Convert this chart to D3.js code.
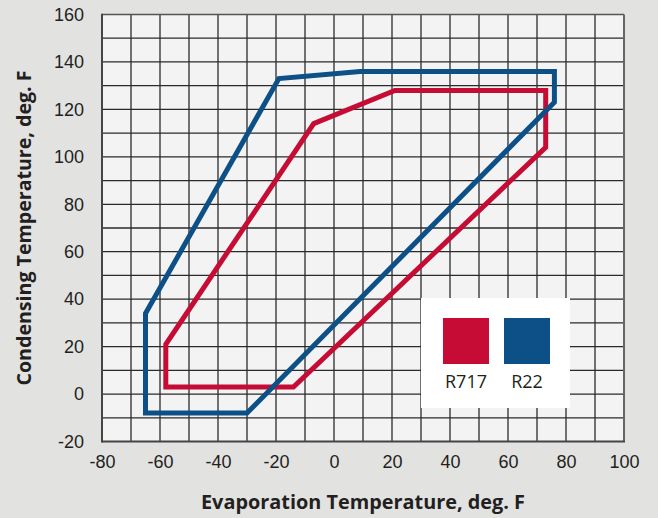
<!DOCTYPE html>
<html>
<head>
<meta charset="utf-8">
<script src="https://cdn.jsdelivr.net/npm/d3@7"></script>
<style>
  html, body { margin: 0; padding: 0; background: #e2e2e1; }
  svg { display: block; font-family: "Open Sans", "Noto Sans", sans-serif; }
</style>
</head>
<body>
<svg id="chart" width="658" height="518"></svg>
<script>
// ---- data ----
const xTicks = [-80, -60, -40, -20, 0, 20, 40, 60, 80, 100];
const yTicks = [-20, 0, 20, 40, 60, 80, 100, 120, 140, 160];
const seriesNames = ["R717", "R22"];
const seriesColors = ["#c60c35", "#0c5087"];
// envelope polygons (evaporation °F, condensing °F)
const r717Evap = [-58, -58, -7, 21, 73, 73, -14];
const r717Cond = [3, 21, 114, 128, 128, 104, 3];
const r22Evap  = [-65, -65, -19, 9, 76, 76, -30];
const r22Cond  = [-8, 34, 133, 136, 136, 123, -8];

const svg = d3.select("#chart");
const W = 658, H = 518;
const m = { left: 102, right: 34, top: 14.5, bottom: 76.5 };

const x = d3.scaleLinear().domain([-80, 100]).range([m.left, W - m.right]);
const y = d3.scaleLinear().domain([-20, 160]).range([H - m.bottom, m.top]);

// plot background
svg.append("rect")
  .attr("x", x(-80)).attr("y", y(160))
  .attr("width", x(100) - x(-80)).attr("height", y(-20) - y(160))
  .attr("fill", "#f3f3f3");

// grid every 10
const gridX = d3.range(-70, 100, 10);
const gridY = d3.range(-10, 160, 10);
svg.append("g").selectAll("line").data(gridX).join("line")
  .attr("x1", d => x(d)).attr("x2", d => x(d))
  .attr("y1", y(-20)).attr("y2", y(160))
  .attr("stroke", "#2a2a2a").attr("stroke-width", 1.3);
svg.append("g").selectAll("line").data(gridY).join("line")
  .attr("y1", d => y(d)).attr("y2", d => y(d))
  .attr("x1", x(-80)).attr("x2", x(100))
  .attr("stroke", "#2a2a2a").attr("stroke-width", 1.3);

// frame
svg.append("line").attr("x1", x(-80)).attr("x2", x(100)).attr("y1", y(160)).attr("y2", y(160))
  .attr("stroke", "#555").attr("stroke-width", 1.5);
svg.append("line").attr("x1", x(100)).attr("x2", x(100)).attr("y1", y(160)).attr("y2", y(-20))
  .attr("stroke", "#666").attr("stroke-width", 2);
svg.append("line").attr("x1", x(-80)).attr("x2", x(-80)).attr("y1", y(160) - 0.75).attr("y2", y(-20) + 1)
  .attr("stroke", "#444").attr("stroke-width", 2);
svg.append("line").attr("x1", x(-80)).attr("x2", x(100) + 1).attr("y1", y(-20)).attr("y2", y(-20))
  .attr("stroke", "#444").attr("stroke-width", 2);

// axes (labels only)
const fmt = d => String(d);
const xAxis = d3.axisBottom(x).tickValues(xTicks).tickFormat(fmt).tickSize(0).tickPadding(14);
const gx = svg.append("g").attr("transform", `translate(0,${y(-20)})`).call(xAxis);
gx.select(".domain").remove();
gx.selectAll("text").attr("font-size", 18).attr("fill", "#231f20").attr("font-family", null);

const yAxis = d3.axisLeft(y).tickValues(yTicks).tickFormat(fmt).tickSize(0).tickPadding(18);
const gy = svg.append("g").attr("transform", `translate(${x(-80)},0)`).call(yAxis);
gy.select(".domain").remove();
gy.selectAll("text").attr("font-size", 18).attr("fill", "#231f20").attr("font-family", null);

// envelopes
const line = d3.line().x(d => x(d[0])).y(d => y(d[1])).curve(d3.curveLinearClosed);
const polys = [
  d3.zip(r717Evap, r717Cond),
  d3.zip(r22Evap, r22Cond)
];
polys.forEach((p, i) => {
  svg.append("path").datum(p).attr("d", line)
    .attr("fill", "none").attr("stroke", seriesColors[i])
    .attr("stroke-width", 5).attr("stroke-linejoin", "miter");
});

// legend
const lg = svg.append("g");
lg.append("rect").attr("x", 421).attr("y", 298).attr("width", 149).attr("height", 110).attr("fill", "#ffffff");
seriesNames.forEach((n, i) => {
  const sx = 443 + i * 61;
  lg.append("rect").attr("x", sx).attr("y", 318).attr("width", 46).attr("height", 46).attr("fill", seriesColors[i]);
  lg.append("text").attr("x", sx + 23).attr("y", 388).attr("text-anchor", "middle")
    .attr("font-size", 18).attr("fill", "#231f20").text(n);
});

// axis titles
svg.append("text").attr("x", 363).attr("y", 509).attr("text-anchor", "middle")
  .attr("font-size", 19.5).attr("font-weight", "bold").attr("fill", "#231f20")
  .attr("textLength", 324).attr("lengthAdjust", "spacingAndGlyphs")
  .text("Evaporation Temperature, deg. F");
svg.append("text").attr("transform", `translate(31,${y(70)}) rotate(-90)`).attr("text-anchor", "middle")
  .attr("font-size", 19.5).attr("font-weight", "bold").attr("fill", "#231f20")
  .attr("textLength", 315).attr("lengthAdjust", "spacingAndGlyphs")
  .text("Condensing Temperature, deg. F");
</script>
</body>
</html>
